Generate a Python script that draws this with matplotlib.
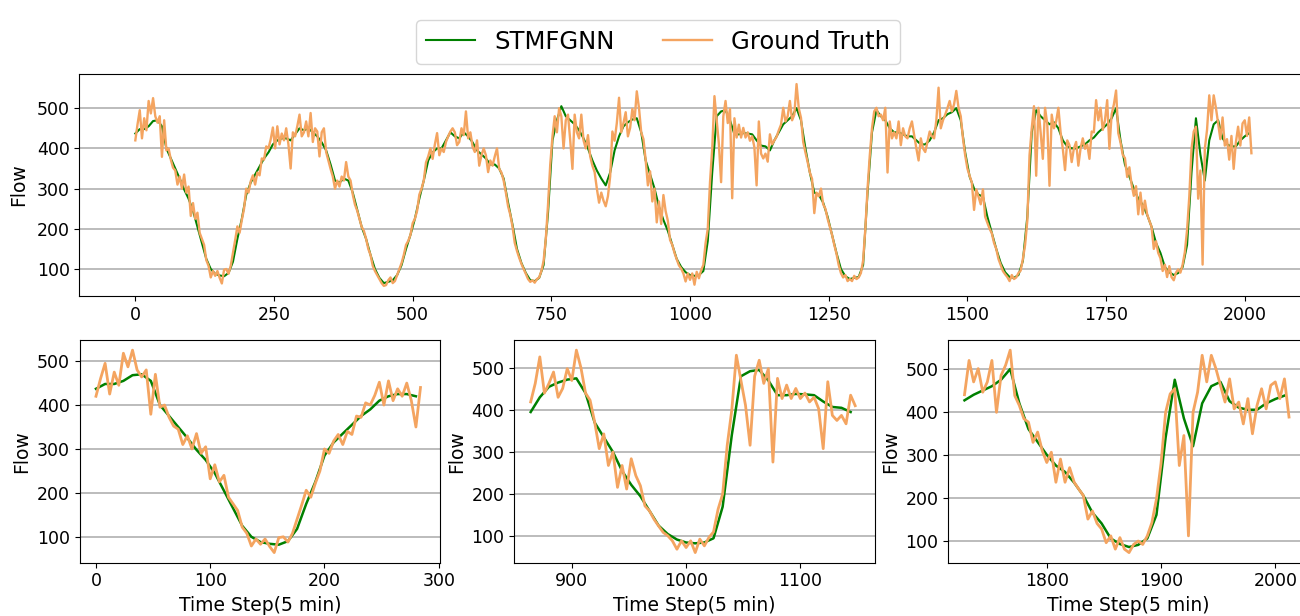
import matplotlib
matplotlib.use("Agg")
import matplotlib.pyplot as plt
import numpy as np

# ground truth flow, read every 4 time steps (288 steps = one day)
gt_day1 = [420, 460, 495, 425, 475, 445, 518, 487, 525, 480, 464, 480,
           379, 470, 395, 400, 372, 352, 345, 310, 330, 300, 335, 290,
           305, 232, 264, 225, 240, 190, 175, 160, 122, 108, 79, 95,
           83, 95, 78, 64, 98, 100, 88, 108, 140, 172, 206, 190,
           222, 250, 300, 290, 318, 333, 310, 340, 333, 375, 372, 405,
           400, 422, 452, 400, 455, 410, 437, 420, 450, 410, 350, 440]
gt_day2 = [430, 455, 484, 430, 440, 467, 430, 488, 416, 450, 442, 380,
           440, 450, 391, 370, 349, 330, 300, 320, 305, 330, 320, 366,
           330, 320, 285, 260, 245, 225, 205, 195, 175, 150, 135, 108,
           95, 85, 75, 65, 58, 60, 72, 79, 65, 70, 85, 100,
           115, 135, 160, 170, 185, 214, 225, 245, 285, 300, 320, 365,
           380, 400, 374, 410, 438, 383, 400, 391, 416, 430, 442, 450]
gt_day3 = [440, 408, 416, 450, 433, 492, 425, 440, 404, 391, 420, 357,
           383, 400, 383, 341, 370, 357, 380, 400, 349, 340, 320, 290,
           256, 235, 205, 165, 145, 128, 113, 100, 88, 75, 68, 72,
           66, 75, 79, 95, 120, 175, 260, 360, 430, 480, 440, 500,
           480, 400, 470, 484, 420, 349, 484, 440, 425, 484, 420, 400,
           433, 380, 357, 341, 300, 265, 290, 270, 256, 281, 330, 442]
gt_day4 = [419, 463, 526, 440, 463, 490, 430, 451, 498, 470, 542, 500,
           440, 423, 371, 308, 343, 268, 300, 216, 268, 212, 284, 244,
           220, 172, 160, 140, 124, 109, 101, 89, 69, 89, 73, 89,
           61, 93, 77, 97, 110, 164, 200, 316, 400, 530, 470, 411,
           316, 480, 518, 463, 498, 276, 475, 427, 459, 427, 451, 427,
           440, 419, 430, 403, 308, 467, 387, 375, 387, 367, 435, 410]
gt_day5 = [420, 429, 445, 459, 501, 467, 480, 518, 470, 484, 560, 500,
           476, 416, 390, 366, 340, 324, 239, 290, 281, 300, 261, 250,
           225, 205, 185, 160, 138, 110, 90, 79, 85, 70, 75, 70,
           83, 75, 79, 90, 121, 200, 300, 382, 450, 492, 501, 480,
           484, 470, 501, 340, 467, 425, 440, 425, 467, 408, 450, 430,
           425, 450, 467, 433, 400, 370, 425, 400, 391, 416, 442, 430]
gt_day6 = [425, 470, 551, 450, 470, 484, 500, 518, 492, 510, 543, 501,
           480, 425, 383, 350, 332, 315, 247, 298, 280, 261, 298, 230,
           215, 200, 189, 165, 150, 125, 110, 95, 87, 80, 70, 85,
           75, 79, 90, 96, 125, 160, 220, 383, 450, 505, 332, 501,
           440, 374, 501, 460, 307, 484, 450, 467, 501, 440, 399, 346,
           420, 408, 366, 400, 416, 357, 400, 425, 399, 410, 374, 442]
gt_day7 = [440, 520, 470, 501, 446, 470, 520, 399, 485, 509, 544, 438,
           415, 384, 376, 329, 353, 310, 282, 306, 236, 290, 236, 270,
           236, 220, 205, 150, 169, 140, 127, 95, 111, 80, 107, 80,
           72, 91, 99, 91, 111, 142, 197, 280, 399, 442, 454, 275,
           345, 111, 399, 446, 532, 470, 532, 501, 462, 423, 477, 407,
           423, 372, 431, 349, 415, 454, 407, 462, 470, 431, 477, 388]

# STMFGNN prediction, read every 8 time steps
pred_day1 = [437, 448, 448, 455, 468, 470, 455, 400, 375, 350, 325, 298,
             275, 245, 205, 165, 125, 100, 88, 84, 82, 90, 118, 175,
             225, 285, 315, 335, 355, 375, 390, 410, 420, 425, 425, 420]
pred_day2 = [435, 450, 445, 450, 440, 430, 415, 395, 360, 320, 315, 325,
             320, 290, 248, 205, 175, 135, 100, 78, 65, 68, 72, 85,
             110, 150, 185, 225, 275, 320, 370, 390, 400, 400, 420, 440]
pred_day3 = [430, 425, 440, 430, 415, 395, 385, 375, 360, 360, 350, 325,
             265, 210, 150, 115, 90, 72, 70, 78, 110, 240, 420, 470,
             505, 480, 470, 460, 445, 425, 400, 370, 345, 325, 308, 340]
pred_day4 = [395, 430, 455, 465, 472, 475, 440, 370, 335, 300, 255, 222,
             195, 160, 125, 105, 92, 85, 83, 85, 95, 170, 340, 480,
             492, 495, 470, 435, 435, 438, 437, 435, 420, 407, 405, 395]
pred_day5 = [420, 440, 460, 470, 480, 500, 470, 400, 340, 290, 285, 265,
             230, 185, 140, 100, 82, 75, 78, 80, 110, 290, 440, 495,
             480, 470, 450, 440, 440, 435, 430, 430, 420, 410, 410, 420]
pred_day6 = [440, 470, 475, 485, 490, 500, 470, 390, 330, 300, 285, 280,
             230, 190, 150, 115, 92, 80, 78, 85, 120, 230, 440, 495,
             480, 470, 460, 465, 450, 420, 405, 400, 400, 405, 410, 420]
pred_day7 = [427, 440, 450, 460, 475, 500, 420, 360, 330, 300, 275, 260,
             235, 205, 165, 140, 105, 92, 85, 90, 105, 160, 340, 475,
             385, 320, 420, 460, 470, 425, 410, 405, 405, 420, 430, 438]

gt = np.concatenate([gt_day1, gt_day2, gt_day3, gt_day4, gt_day5, gt_day6, gt_day7])
pred = np.concatenate([pred_day1, pred_day2, pred_day3, pred_day4, pred_day5, pred_day6, pred_day7])
t_gt = np.arange(0, 2016, 4)
t_pred = np.arange(0, 2016, 8)

GREEN = "green"
ORANGE = "#f4a460"
yticks = [100, 200, 300, 400, 500]

fig = plt.figure(figsize=(13, 6.16), dpi=100)

# top panel: whole week
ax_top = fig.add_axes([0.0611, 0.5195, 0.9458, 0.3604])
l1, = ax_top.plot(t_pred, pred, color=GREEN, lw=1.5, label="STMFGNN")
l2, = ax_top.plot(t_gt, gt, color=ORANGE, lw=1.7, label="Ground Truth")
ax_top.set_xlim(-100.75, 2115.75)
ax_top.xaxis.set_major_locator(plt.MultipleLocator(250))
ax_top.set_yticks(yticks)
ax_top.set_ylabel("Flow", fontsize=13.5, labelpad=6)
ax_top.grid(axis="y", color="#b0b0b0", lw=1.2)
ax_top.tick_params(labelsize=12.5)

# bottom panels: day 1, day 4, day 7
lefts = [0.0612, 0.3956, 0.7293]
starts = [0, 864, 1728]
for left, start in zip(lefts, starts):
    ax = fig.add_axes([left, 0.0865, 0.2775, 0.3615])
    m_gt = (t_gt >= start) & (t_gt < start + 288)
    m_pr = (t_pred >= start) & (t_pred < start + 288)
    ax.plot(t_pred[m_pr], pred[m_pr], color=GREEN, lw=1.8)
    ax.plot(t_gt[m_gt], gt[m_gt], color=ORANGE, lw=2.0)
    ax.set_xlim(start - 14.35, start + 301.35)
    ax.xaxis.set_major_locator(plt.MultipleLocator(100))
    ax.set_yticks(yticks)
    ax.set_ylabel("Flow", fontsize=13.5, labelpad=4)
    ax.set_xlabel("Time Step(5 min)", fontsize=13.5, labelpad=4)
    ax.grid(axis="y", color="#b0b0b0", lw=1.2)
    ax.tick_params(labelsize=12.5)

fig.legend(handles=[l1, l2], loc="upper center", bbox_to_anchor=(658 / 1300, 1 - 8 / 616),
           ncol=2, fontsize=17.5, frameon=True)

fig.savefig("out.png", dpi=100)
